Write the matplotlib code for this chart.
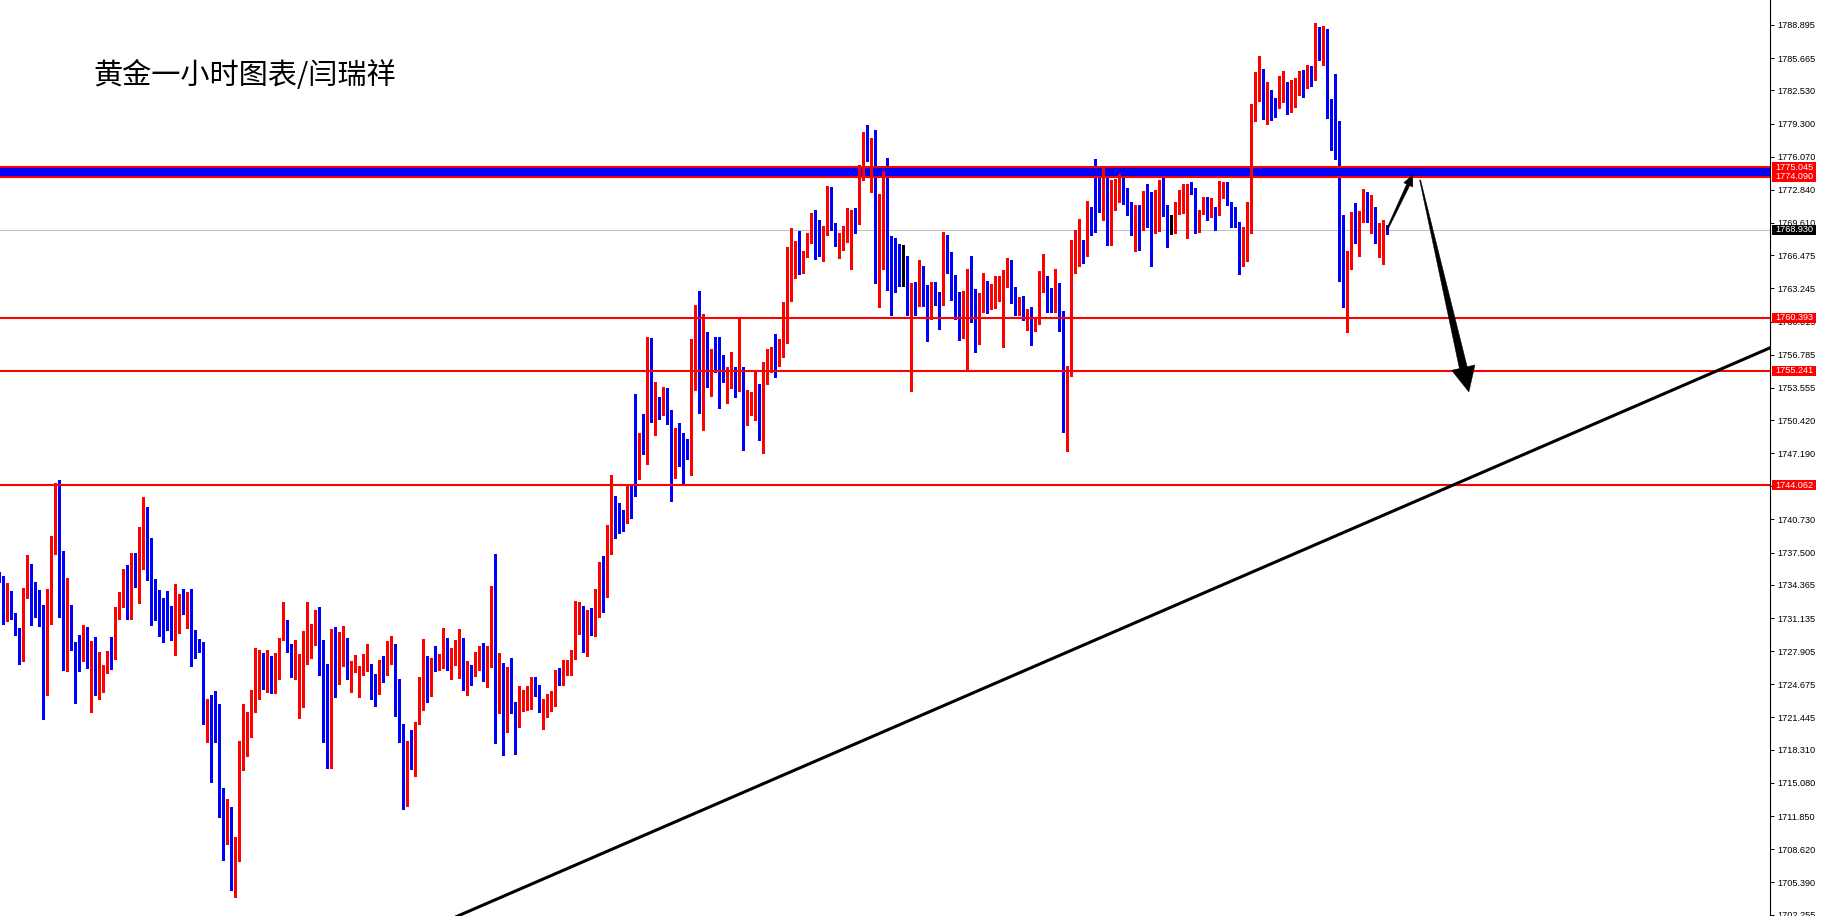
import numpy as np
import matplotlib
matplotlib.use('Agg')
import matplotlib.pyplot as plt
from matplotlib.patches import Polygon, Rectangle
from matplotlib.transforms import IdentityTransform, blended_transform_factory

# hourly gold candles (first one is cut by the left edge)
opens = [
    1735.4, 1735.0, 1731.9, 1732.2, 1731.5, 1729.8, 1727.8, 1733.7, 1735.7, 1733.7,
    1733.4, 1732.3, 1727.5, 1732.1, 1737.9, 1743.4, 1735.3, 1727.3, 1732.0, 1728.7,
    1727.7, 1727.0, 1728.9, 1726.6, 1727.3, 1725.1, 1725.3, 1725.9, 1728.0, 1727.5,
    1731.6, 1733.0, 1734.7, 1731.1, 1737.0, 1736.3, 1737.2, 1741.3, 1738.4, 1734.0,
    1733.8, 1732.6, 1732.0, 1731.2, 1728.1, 1730.2, 1732.8, 1732.0, 1733.1, 1729.1,
    1729.0, 1728.5, 1722.0, 1722.9, 1721.3, 1720.6, 1713.9, 1709.5, 1712.2, 1707.2,
    1707.9, 1716.4, 1720.3, 1721.0, 1722.1, 1726.0, 1726.0, 1724.4, 1727.2, 1723.8,
    1727.4, 1729.0, 1729.5, 1728.4, 1725.7, 1726.2, 1726.2, 1727.1, 1729.2, 1729.7,
    1730.4, 1727.8, 1726.0, 1723.7, 1729.8, 1725.2, 1728.8, 1729.0, 1725.5, 1726.3,
    1725.4, 1725.6, 1726.3, 1726.5, 1724.3, 1723.8, 1726.3, 1725.9, 1728.0, 1728.4,
    1723.8, 1719.9, 1715.1, 1719.3, 1717.2, 1720.8, 1724.4, 1726.9, 1724.3, 1726.5,
    1726.2, 1726.6, 1729.1, 1725.6, 1727.0, 1727.4, 1727.8, 1725.1, 1726.2, 1725.6,
    1726.8, 1727.0, 1725.9, 1727.0, 1732.9, 1725.5, 1726.5, 1721.8, 1725.3, 1722.5,
    1721.8, 1722.4, 1723.0, 1723.0, 1725.0, 1724.5, 1721.0, 1723.0, 1723.1, 1723.5,
    1725.8, 1725.0, 1725.7, 1725.7, 1727.7, 1730.2, 1731.9, 1730.0, 1731.3, 1729.7,
    1733.7, 1734.9, 1734.3, 1737.7, 1742.2, 1741.4, 1741.0, 1740.7, 1743.9, 1753.0,
    1745.0, 1748.9, 1748.3, 1758.2, 1751.1, 1752.4, 1752.1, 1752.7, 1751.3, 1745.5,
    1749.1, 1749.0, 1748.1, 1747.8, 1756.2, 1759.6, 1751.5, 1757.5, 1754.9, 1756.3,
    1755.8, 1755.1, 1752.6, 1754.6, 1755.1, 1753.3, 1755.3, 1750.0, 1751.2, 1752.3,
    1752.5, 1749.4, 1755.4, 1756.1, 1757.2, 1756.1, 1757.6, 1759.1, 1765.1, 1765.5,
    1766.0, 1765.2, 1766.7, 1768.1, 1769.9, 1768.2, 1766.8, 1768.5, 1770.3, 1769.5,
    1767.7, 1767.8, 1768.6, 1769.5, 1769.8, 1769.7, 1774.9, 1778.3, 1775.7, 1777.9,
    1766.5, 1768.3, 1773.9, 1767.3, 1766.4, 1765.5, 1764.9, 1764.9, 1759.3, 1763.7,
    1761.8, 1764.3, 1763.5, 1761.0, 1763.8, 1762.1, 1761.7, 1766.7, 1765.7, 1762.7,
    1761.6, 1759.1, 1759.0, 1764.3, 1761.9, 1759.6, 1760.9, 1762.8, 1762.4, 1763.0,
    1763.5, 1757.5, 1763.8, 1765.6, 1763.0, 1760.9, 1762.0, 1760.6, 1761.0, 1759.3,
    1759.9, 1763.1, 1764.2, 1762.7, 1762.1, 1762.3, 1760.9, 1749.5, 1755.3, 1766.5,
    1767.3, 1767.7, 1767.0, 1771.0, 1775.4, 1774.0, 1770.0, 1774.0, 1769.0, 1771.4,
    1772.2, 1774.0, 1772.9, 1771.7, 1768.9, 1771.0, 1769.1, 1772.2, 1770.6, 1768.8,
    1771.6, 1772.8, 1771.3, 1769.7, 1769.6, 1771.4, 1771.8, 1768.2, 1773.3, 1772.7,
    1769.0, 1770.7, 1771.9, 1770.3, 1771.1, 1770.5, 1772.8, 1773.5, 1771.5, 1770.2,
    1769.6, 1765.7, 1766.0, 1770.8, 1781.0, 1782.7, 1783.5, 1779.8, 1782.4, 1780.2,
    1781.3, 1781.5, 1783.0, 1780.5, 1781.6, 1782.8, 1783.8, 1782.9, 1783.8, 1783.6,
    1787.8, 1785.8, 1787.0, 1781.6, 1781.4, 1779.4, 1767.6, 1765.6, 1766.7, 1770.5,
    1768.0, 1770.3, 1772.4, 1769.5, 1769.8, 1768.2, 1768.5, 1769.3]
highs = [
    1735.6, 1735.2, 1734.5, 1733.8, 1731.6, 1730.2, 1734.1, 1737.3, 1736.4, 1734.6,
    1733.9, 1732.4, 1734.0, 1739.1, 1744.3, 1744.6, 1737.7, 1735.0, 1732.4, 1728.8,
    1729.5, 1730.5, 1730.3, 1728.9, 1729.3, 1727.8, 1726.6, 1727.9, 1729.3, 1732.2,
    1733.7, 1735.9, 1736.3, 1737.5, 1737.5, 1740.0, 1742.9, 1741.9, 1738.9, 1734.9,
    1733.9, 1733.1, 1733.8, 1732.3, 1734.4, 1733.5, 1734.0, 1733.7, 1734.0, 1730.0,
    1729.1, 1728.8, 1723.2, 1723.6, 1724.0, 1722.8, 1714.6, 1713.5, 1712.7, 1709.8,
    1719.2, 1722.8, 1722.0, 1724.1, 1728.2, 1728.0, 1727.7, 1728.0, 1727.4, 1727.7,
    1729.2, 1732.7, 1730.9, 1728.6, 1729.0, 1727.6, 1729.9, 1732.7, 1730.6, 1731.9,
    1732.2, 1729.0, 1726.7, 1730.1, 1730.3, 1729.8, 1730.4, 1729.2, 1726.9, 1727.5,
    1726.5, 1727.6, 1728.6, 1726.7, 1725.7, 1727.0, 1727.4, 1728.9, 1729.4, 1728.6,
    1725.2, 1720.8, 1719.2, 1720.2, 1721.0, 1725.4, 1729.1, 1727.4, 1727.2, 1728.4,
    1727.6, 1730.2, 1729.2, 1728.2, 1729.0, 1730.1, 1729.2, 1726.9, 1726.6, 1727.8,
    1728.4, 1728.7, 1728.4, 1734.3, 1737.4, 1727.7, 1726.8, 1726.4, 1727.2, 1723.0,
    1724.5, 1724.1, 1724.5, 1725.4, 1725.4, 1724.6, 1723.2, 1723.7, 1724.0, 1726.1,
    1726.3, 1727.0, 1727.0, 1728.0, 1732.8, 1732.7, 1732.3, 1731.9, 1732.1, 1734.0,
    1736.6, 1737.2, 1740.2, 1745.1, 1743.0, 1742.3, 1741.7, 1744.1, 1744.1, 1753.0,
    1749.2, 1751.0, 1758.5, 1758.4, 1754.1, 1752.7, 1753.6, 1753.5, 1751.4, 1749.6,
    1750.1, 1749.2, 1748.6, 1758.3, 1761.6, 1763.0, 1760.7, 1759.0, 1757.3, 1758.5,
    1758.5, 1756.8, 1755.6, 1757.0, 1755.6, 1760.3, 1755.6, 1753.3, 1753.1, 1755.1,
    1753.9, 1756.1, 1757.3, 1757.5, 1758.8, 1758.3, 1761.9, 1767.3, 1769.1, 1767.9,
    1768.8, 1766.9, 1768.6, 1770.6, 1770.9, 1769.9, 1769.3, 1773.2, 1773.1, 1769.6,
    1768.6, 1769.3, 1771.1, 1770.9, 1771.1, 1775.3, 1778.5, 1779.2, 1777.9, 1778.7,
    1772.4, 1774.7, 1775.9, 1768.3, 1768.1, 1767.6, 1767.5, 1766.4, 1763.8, 1763.9,
    1766.0, 1765.4, 1763.6, 1763.9, 1763.9, 1762.9, 1768.7, 1768.4, 1766.8, 1764.5,
    1762.9, 1763.0, 1765.1, 1766.4, 1763.2, 1762.8, 1764.7, 1764.0, 1763.7, 1764.4,
    1764.4, 1765.0, 1766.2, 1766.0, 1763.4, 1762.4, 1762.5, 1761.2, 1761.4, 1760.3,
    1764.9, 1766.6, 1764.4, 1763.3, 1765.1, 1763.8, 1761.0, 1755.7, 1768.0, 1768.9,
    1770.0, 1768.0, 1771.8, 1771.2, 1775.8, 1774.2, 1775.0, 1774.2, 1773.8, 1773.9,
    1774.4, 1774.2, 1773.0, 1771.7, 1771.4, 1771.4, 1772.7, 1773.4, 1772.6, 1772.8,
    1773.8, 1774.0, 1771.4, 1770.4, 1771.7, 1772.8, 1773.4, 1773.4, 1773.6, 1773.0,
    1770.9, 1772.1, 1772.1, 1772.0, 1771.2, 1773.7, 1773.6, 1773.6, 1771.7, 1771.2,
    1769.7, 1769.2, 1771.7, 1781.2, 1784.3, 1785.9, 1784.6, 1783.3, 1782.6, 1781.8,
    1783.9, 1784.4, 1783.3, 1783.5, 1783.7, 1784.4, 1784.5, 1785.0, 1784.9, 1789.1,
    1788.7, 1788.8, 1788.5, 1781.7, 1784.1, 1779.5, 1770.4, 1766.9, 1770.7, 1771.6,
    1770.8, 1772.9, 1772.6, 1772.3, 1771.2, 1769.6, 1769.9, 1769.4]
lows = [
    1734.6, 1730.6, 1730.8, 1731.0, 1729.5, 1726.7, 1726.9, 1733.1, 1730.5, 1731.2,
    1730.4, 1721.3, 1723.6, 1730.6, 1737.4, 1731.2, 1726.1, 1726.0, 1728.0, 1722.9,
    1726.0, 1726.9, 1726.3, 1722.0, 1723.6, 1723.2, 1723.9, 1725.8, 1726.2, 1727.1,
    1731.0, 1732.2, 1731.0, 1731.0, 1734.2, 1732.6, 1735.9, 1734.8, 1730.5, 1730.9,
    1729.4, 1728.8, 1730.0, 1729.0, 1727.5, 1729.7, 1731.5, 1730.2, 1726.5, 1727.2,
    1727.8, 1720.8, 1719.1, 1715.2, 1719.1, 1711.8, 1707.6, 1709.1, 1704.6, 1704.0,
    1707.5, 1716.3, 1717.7, 1719.5, 1722.0, 1723.2, 1724.2, 1723.9, 1723.8, 1723.8,
    1725.2, 1729.0, 1727.8, 1725.4, 1725.2, 1721.4, 1722.5, 1726.7, 1727.2, 1728.5,
    1725.6, 1719.1, 1716.5, 1716.5, 1723.4, 1724.7, 1726.5, 1725.2, 1723.9, 1725.9,
    1723.4, 1725.6, 1726.0, 1723.2, 1722.6, 1723.7, 1724.9, 1725.6, 1726.7, 1721.6,
    1719.1, 1712.5, 1712.8, 1716.4, 1715.7, 1720.8, 1722.2, 1723.0, 1723.5, 1726.0,
    1726.1, 1726.3, 1726.1, 1725.2, 1726.6, 1725.3, 1724.1, 1723.6, 1724.6, 1725.5,
    1726.1, 1725.0, 1724.4, 1726.4, 1719.0, 1721.9, 1717.8, 1720.0, 1721.9, 1717.9,
    1720.5, 1722.1, 1722.2, 1722.3, 1723.5, 1722.0, 1720.3, 1721.5, 1722.1, 1722.6,
    1724.6, 1724.6, 1725.6, 1725.6, 1727.1, 1729.6, 1727.8, 1727.4, 1729.5, 1729.4,
    1731.2, 1731.7, 1733.2, 1737.4, 1738.9, 1739.4, 1739.6, 1740.4, 1740.9, 1743.0,
    1744.7, 1747.1, 1746.1, 1750.2, 1749.0, 1750.5, 1750.9, 1750.0, 1742.5, 1744.8,
    1745.9, 1744.2, 1746.6, 1745.1, 1753.3, 1751.1, 1749.4, 1753.6, 1752.8, 1755.1,
    1751.6, 1754.1, 1752.1, 1753.5, 1752.7, 1753.2, 1747.5, 1749.9, 1750.9, 1750.4,
    1748.5, 1747.2, 1753.9, 1755.1, 1754.6, 1755.7, 1756.6, 1757.9, 1762.0, 1764.3,
    1764.6, 1764.7, 1766.3, 1767.7, 1766.1, 1766.4, 1765.9, 1768.4, 1768.9, 1767.4,
    1766.2, 1767.0, 1767.8, 1765.1, 1768.6, 1769.5, 1773.8, 1775.6, 1772.6, 1763.8,
    1761.4, 1765.1, 1763.1, 1760.6, 1762.9, 1763.5, 1763.5, 1760.6, 1753.2, 1760.6,
    1761.5, 1761.5, 1758.1, 1760.3, 1761.6, 1759.3, 1761.6, 1764.7, 1762.1, 1760.3,
    1758.2, 1758.4, 1755.3, 1760.0, 1757.0, 1757.8, 1760.9, 1760.8, 1761.2, 1761.3,
    1762.0, 1757.5, 1763.4, 1761.8, 1760.6, 1760.6, 1760.2, 1759.2, 1757.7, 1759.1,
    1759.8, 1762.9, 1760.9, 1760.9, 1760.9, 1759.1, 1749.3, 1747.4, 1754.7, 1764.7,
    1765.4, 1765.7, 1766.4, 1768.4, 1768.7, 1770.7, 1769.9, 1767.5, 1767.5, 1770.9,
    1771.7, 1771.5, 1770.4, 1768.4, 1766.9, 1767.0, 1768.9, 1769.2, 1765.4, 1768.6,
    1768.8, 1770.3, 1767.3, 1768.5, 1768.6, 1770.5, 1770.6, 1768.1, 1772.4, 1768.6,
    1768.7, 1770.5, 1769.9, 1770.2, 1768.9, 1770.4, 1772.0, 1771.4, 1769.2, 1769.2,
    1764.6, 1765.4, 1765.9, 1768.6, 1779.5, 1781.5, 1779.7, 1779.3, 1779.6, 1779.9,
    1780.8, 1781.4, 1780.2, 1780.4, 1780.9, 1782.1, 1781.9, 1782.8, 1783.0, 1783.5,
    1785.5, 1785.0, 1779.8, 1776.7, 1775.8, 1764.0, 1761.4, 1759.0, 1765.1, 1767.7,
    1766.4, 1769.7, 1769.7, 1768.6, 1767.7, 1766.3, 1765.6, 1768.5]
closes = [
    1734.7, 1731.9, 1732.2, 1731.4, 1729.6, 1728.0, 1733.8, 1735.7, 1733.6, 1733.3,
    1732.1, 1727.5, 1732.2, 1738.0, 1743.4, 1735.4, 1727.4, 1732.0, 1728.7, 1727.6,
    1726.8, 1729.2, 1726.5, 1727.2, 1725.1, 1725.3, 1726.0, 1727.9, 1727.4, 1731.7,
    1733.1, 1734.7, 1731.1, 1737.0, 1736.2, 1737.3, 1741.2, 1738.5, 1733.9, 1733.7,
    1732.6, 1731.9, 1731.0, 1729.4, 1730.4, 1732.6, 1732.0, 1733.1, 1729.1, 1728.9,
    1728.2, 1721.9, 1722.9, 1721.3, 1720.5, 1713.8, 1709.5, 1712.3, 1707.2, 1708.0,
    1716.5, 1720.5, 1721.1, 1722.2, 1726.1, 1726.2, 1725.0, 1727.1, 1723.8, 1727.4,
    1729.1, 1729.5, 1728.4, 1725.8, 1726.4, 1726.4, 1727.2, 1729.3, 1729.8, 1730.4,
    1727.7, 1725.9, 1723.7, 1729.9, 1725.3, 1728.9, 1729.0, 1725.6, 1726.4, 1726.9,
    1725.7, 1726.4, 1726.5, 1724.2, 1723.8, 1726.3, 1725.9, 1728.1, 1728.3, 1723.8,
    1719.8, 1715.1, 1719.2, 1717.2, 1720.9, 1724.5, 1726.9, 1724.3, 1726.5, 1726.2,
    1726.7, 1729.1, 1726.6, 1727.0, 1727.4, 1727.8, 1725.1, 1726.2, 1725.6, 1726.8,
    1727.0, 1725.9, 1727.2, 1732.9, 1725.4, 1726.5, 1721.8, 1725.3, 1722.4, 1721.8,
    1722.4, 1723.2, 1723.9, 1725.0, 1724.4, 1722.1, 1723.2, 1723.2, 1723.5, 1725.8,
    1725.0, 1725.8, 1725.9, 1727.8, 1730.3, 1731.8, 1730.0, 1731.2, 1729.7, 1733.8,
    1734.9, 1734.3, 1737.7, 1742.1, 1741.3, 1740.9, 1740.7, 1743.9, 1742.9, 1745.0,
    1749.0, 1748.2, 1758.2, 1751.1, 1752.4, 1752.2, 1752.7, 1751.4, 1745.6, 1749.1,
    1748.9, 1748.0, 1747.8, 1756.3, 1759.4, 1751.5, 1757.5, 1754.9, 1756.4, 1755.6,
    1754.8, 1754.5, 1754.7, 1755.1, 1753.4, 1755.5, 1750.0, 1751.3, 1752.4, 1752.4,
    1749.5, 1755.5, 1756.2, 1757.2, 1756.1, 1757.7, 1759.2, 1765.1, 1765.6, 1766.0,
    1765.2, 1766.8, 1768.2, 1770.0, 1766.6, 1766.9, 1768.6, 1770.2, 1769.4, 1767.7,
    1767.9, 1768.8, 1769.6, 1769.8, 1769.7, 1774.9, 1778.3, 1775.7, 1777.9, 1766.5,
    1768.4, 1773.9, 1767.0, 1766.2, 1765.4, 1764.9, 1764.9, 1761.0, 1763.6, 1761.8,
    1764.4, 1763.5, 1761.0, 1763.7, 1762.0, 1761.7, 1766.8, 1765.6, 1762.6, 1761.5,
    1759.0, 1759.2, 1764.1, 1761.7, 1759.6, 1761.0, 1762.9, 1762.4, 1763.0, 1763.4,
    1763.7, 1763.9, 1765.5, 1762.9, 1760.9, 1761.9, 1760.7, 1761.1, 1759.4, 1760.1,
    1763.2, 1764.1, 1762.6, 1762.1, 1762.3, 1761.0, 1749.5, 1755.6, 1766.6, 1767.5,
    1767.7, 1767.0, 1771.1, 1770.2, 1773.8, 1771.3, 1774.0, 1768.8, 1771.5, 1772.3,
    1774.0, 1772.8, 1771.6, 1768.9, 1771.0, 1769.1, 1772.2, 1770.3, 1768.7, 1771.7,
    1772.8, 1771.1, 1769.6, 1769.7, 1771.5, 1771.7, 1772.5, 1773.3, 1772.7, 1769.1,
    1770.8, 1771.9, 1770.5, 1771.3, 1770.5, 1772.8, 1773.4, 1771.5, 1770.2, 1769.6,
    1765.7, 1769.1, 1771.0, 1781.1, 1782.9, 1783.5, 1779.8, 1782.4, 1780.1, 1779.9,
    1781.6, 1783.0, 1780.5, 1781.6, 1782.8, 1783.8, 1782.9, 1783.7, 1783.6, 1787.8,
    1785.8, 1787.0, 1781.6, 1781.4, 1779.4, 1767.5, 1765.5, 1766.8, 1770.6, 1768.7,
    1770.5, 1772.5, 1770.1, 1769.8, 1768.2, 1768.6, 1769.3, 1768.93]

price_ticks = [1788.895, 1785.665, 1782.530, 1779.300, 1776.070, 1772.840, 1769.610,
               1766.475, 1763.245, 1760.015, 1756.785, 1753.555, 1750.420, 1747.190,
               1743.960, 1740.730, 1737.500, 1734.365, 1731.135, 1727.905, 1724.675,
               1721.445, 1718.310, 1715.080, 1711.850, 1708.620, 1705.390, 1702.255]
red_levels = [1760.393, 1755.241, 1744.062]
zone = [1774.090, 1775.045]
bid = 1768.930
trend_x = [110, 445]
trend_y = [1701.50, 1758.01]
arrow_up = [(345.9, 1768.93), (352.4, 1774.29)]
arrow_down = [(354.2, 1773.8), (366.4, 1753.15)]
title = '黄金一小时图表/闫瑞祥'

W, H = 1822, 916
PLOT_W = 1770
fig = plt.figure(figsize=(W / 100, H / 100), dpi=100, facecolor='white')
ax = fig.add_axes([0, 0, PLOT_W / W, 1])
ax.set_facecolor('white')
ax.set_xlim(-0.825, 441.675)
ax.set_ylim(1702.11, 1791.33)
px = (1791.33 - 1702.11) / H  # price per pixel

o = np.array(opens)
c = np.array(closes)
hi = np.array(highs)
lo = np.array(lows)
x = np.arange(len(o)) - 1
cols = np.where(c > o, '#FF0000', np.where(c < o, '#0000FF', 'black'))

# zone behind the candles
ax.axhspan(zone[0], zone[1], color='#0000FF', lw=0, zorder=1)

ax.vlines(x, lo, hi, colors=cols, lw=0.75, zorder=2, antialiased=False)
ax.bar(x, np.maximum(np.abs(c - o), px), bottom=np.minimum(o, c), width=0.74,
       color=cols, lw=0, zorder=2, antialiased=False)

for lv in zone + red_levels:
    ax.axhline(lv, color='#FF0000', lw=1.5, zorder=3)
ax.axhline(bid, color='#C0C0C0', lw=0.75, zorder=1.5)

ax.plot(trend_x, trend_y, color='black', lw=2.2, zorder=4, solid_capstyle='butt')


def tapered_arrow(p0, p1, w0, w1, head_w, head_l):
    a = ax.transData.transform(p0)
    b = ax.transData.transform(p1)
    d = b - a
    u = d / np.hypot(*d)
    n = np.array([-u[1], u[0]])
    base = b - u * head_l
    pts = [a + n * w0 / 2, base + n * w1 / 2, base + n * head_w / 2, b,
           base - n * head_w / 2, base - n * w1 / 2, a - n * w0 / 2]
    ax.add_patch(Polygon(pts, closed=True, transform=IdentityTransform(),
                         fc='black', ec='black', lw=0.3, zorder=5))


tapered_arrow(arrow_up[0], arrow_up[1], 1.5, 3.5, 10, 11)
tapered_arrow(arrow_down[0], arrow_down[1], 1.0, 8.0, 24, 25)

# right price scale
for s in ['top', 'left', 'bottom']:
    ax.spines[s].set_visible(False)
ax.spines['right'].set_color('black')
ax.spines['right'].set_linewidth(0.8)
ax.set_xticks([])
ax.yaxis.tick_right()
ax.set_yticks(price_ticks)
ax.set_yticklabels(['%.3f' % v for v in price_ticks], family='Liberation Sans')
ax.tick_params(axis='y', length=3, width=0.7, pad=2, labelsize=6.6, colors='black')

tr = blended_transform_factory(ax.transAxes, ax.transData)
box_w = 44 / PLOT_W
box_h = 10 * px
tags = [(zone[1], '#FF0000'), (zone[0], '#FF0000'), (bid, 'black')] + [(v, '#FF0000') for v in red_levels]
for val, fc in tags:
    ax.add_patch(Rectangle((1.0012, val - box_h / 2), box_w, box_h, transform=tr,
                           fc=fc, ec='none', clip_on=False, zorder=6))
    ax.text(1.0012 + box_w / 2, val, '%.3f' % val, transform=tr, ha='center', va='center',
            color='white', fontsize=6.6, family='Liberation Sans', clip_on=False, zorder=7)

fig.text(93 / W, 1 - 76 / H, title, fontsize=21, ha='left', va='center',
         family=['Noto Sans CJK SC', 'DejaVu Sans'], color='black')

fig.savefig('out.png', dpi=100, facecolor='white')
